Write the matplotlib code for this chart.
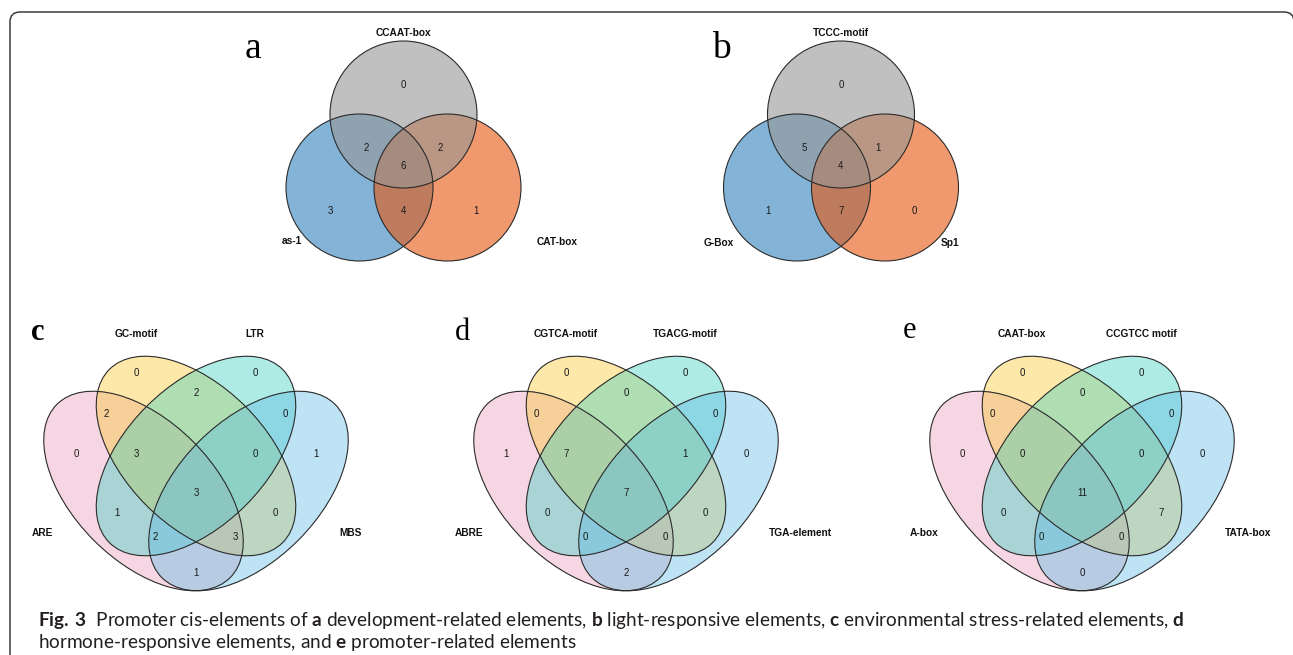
import matplotlib
matplotlib.use("Agg")
import matplotlib.pyplot as plt
from matplotlib.patches import Circle, Ellipse, FancyBboxPatch

plt.rcParams['mathtext.fontset'] = 'custom'
plt.rcParams['mathtext.rm'] = 'Lato'
plt.rcParams['mathtext.bf'] = 'Lato:bold'

W, H = 1293, 655

# ---------------------------------------------------------------
# data
# ---------------------------------------------------------------
# three-set panels: names are (top, left, right)
SETS_A = ["CCAAT-box", "as-1", "CAT-box"]
SETS_B = ["TCCC-motif", "G-Box", "Sp1"]
# region order: top, top&left, top&right, all, left, left&right, right
COUNTS_A = [0, 2, 2, 6, 3, 4, 1]
COUNTS_B = [0, 5, 1, 4, 1, 7, 0]

# four-set panels: names are (outer left, inner left, inner right, outer right)
SETS_C = ["ARE", "GC-motif", "LTR", "MBS"]
SETS_D = ["ABRE", "CGTCA-motif", "TGACG-motif", "TGA-element"]
SETS_E = ["A-box", "CAAT-box", "CCGTCC motif", "TATA-box"]
# region order (p=outer left, y=inner left, g=inner right, b=outer right):
# y, g, yg, py, gb, p, pyg, ygb, b, pygb, pg, yb, pgb, pyb, pb
COUNTS_C = [0, 0, 2, 2, 0, 0, 3, 0, 1, 3, 1, 0, 2, 3, 1]
COUNTS_D = [0, 0, 0, 0, 0, 1, 7, 1, 0, 7, 0, 0, 0, 0, 2]
COUNTS_E = [0, 0, 0, 0, 0, 0, 0, 0, 0, 11, 0, 7, 0, 0, 0]

# ---------------------------------------------------------------
# layout / style
# ---------------------------------------------------------------
COLORS3 = ["#969696", "#3182BD", "#E6550D"]        # top, left, right
COLORS4 = ["#E899B7", "#FCC62B", "#39CFC0", "#5CBBE6"]
R3 = 73.5
POS3 = [(0, -65), (-37, -2), (37, -2), (0, 16), (-73, 61), (0, 61), (73, 61)]
POS4 = [(-60, -120), (59, -120), (0, -100), (-90, -79), (89, -79),
        (-120, -39), (-60, -39), (59, -39), (120, -39), (0, 0),
        (-79, 20), (79, 20), (-41, 44), (39, 44), (0, 80)]
S4 = 350          # px per unit of the quad-venn layout
EDGE = "#2b2b2b"
NUM_KW = dict(fontsize=7, family="Liberation Sans", color="#1a1a1a",
              ha="center", va="center")
LAB_KW = dict(fontsize=7.3, family="Liberation Sans", fontweight="bold",
              color="#111111", va="center")

fig = plt.figure(figsize=(W / 100, H / 100), dpi=100)
ax = fig.add_axes([0, 0, 1, 1])
ax.set_xlim(0, W)
ax.set_ylim(H, 0)
ax.axis("off")

# outer frame
ax.add_patch(FancyBboxPatch((10, 12), 1284, 700,
                            boxstyle="round,pad=0,rounding_size=10",
                            fc="none", ec="#3c3c3c", lw=1.1))


def venn3(cx, names, counts, lab_left, lab_right):
    centers = [(cx, 114.5), (cx - 44, 187.5), (cx + 44, 187.5)]
    for i in (1, 2, 0):
        ax.add_patch(Circle(centers[i], R3, fc=COLORS3[i], alpha=0.6, lw=0))
    for c in centers:
        ax.add_patch(Circle(c, R3, fc="none", ec=EDGE, lw=0.8))
    for (dx, dy), n in zip(POS3, counts):
        ax.text(cx + dx, 150 + dy, str(n), **NUM_KW)
    ax.text(cx, 33, names[0], ha="center", **LAB_KW)
    ax.text(lab_left[0], lab_left[1], names[1], ha="center", **LAB_KW)
    ax.text(lab_right[0], lab_right[1], names[2], ha="center", **LAB_KW)


def venn4(cx, names, counts):
    y0 = 456
    cy_ref = 493
    specs = [((cx - 0.15 * S4, y0 + 0.10 * S4), 45),
             ((cx, y0), 45),
             ((cx, y0), 135),
             ((cx + 0.15 * S4, y0 + 0.10 * S4), 135)]
    for (c, ang), col in zip(specs, COLORS4):
        ax.add_patch(Ellipse(c, 0.70 * S4, 0.40 * S4, angle=ang,
                             fc=col, alpha=0.4, lw=0))
    for c, ang in specs:
        ax.add_patch(Ellipse(c, 0.70 * S4, 0.40 * S4, angle=ang,
                             fc="none", ec=EDGE, lw=0.8))
    for (dx, dy), n in zip(POS4, counts):
        ax.text(cx + dx, cy_ref + dy, str(n), **NUM_KW)
    ax.text(cx - 143, 533, names[0], ha="right", **LAB_KW)
    ax.text(cx - 60, 334, names[1], ha="center", **LAB_KW)
    ax.text(cx + 59, 334, names[2], ha="center", **LAB_KW)
    ax.text(cx + 143, 533, names[3], ha="left", **LAB_KW)


venn3(403.5, SETS_A, COUNTS_A, (292, 241), (557, 242))
venn3(841, SETS_B, COUNTS_B, (719, 243), (950, 243))
venn4(196, SETS_C, COUNTS_C)
venn4(626, SETS_D, COUNTS_D)
venn4(1082, SETS_E, COUNTS_E)

# panel letters
SERIF = dict(family="Liberation Serif", color="black", ha="center", va="baseline")
ax.text(253, 58, "a", fontsize=27, **SERIF)
ax.text(721, 58, "b", fontsize=27, **SERIF)
ax.text(38, 340, "c", fontsize=22, fontweight="bold", **SERIF)
ax.text(462, 340, "d", fontsize=22, **SERIF)
ax.text(909, 338, "e", fontsize=22, **SERIF)

# caption
CAP = dict(family="Lato", fontsize=13.7, color="#231F20", ha="left", va="baseline")
ax.text(38, 626, r"$\mathbf{Fig.\,3}$  Promoter cis-elements of $\mathbf{a}$ "
        r"development-related elements, $\mathbf{b}$ light-responsive elements, "
        r"$\mathbf{c}$ environmental stress-related elements, $\mathbf{d}$", **CAP)
ax.text(38, 648, r"hormone-responsive elements, and $\mathbf{e}$ "
        r"promoter-related elements", **CAP)

fig.savefig("out.png", dpi=100)
